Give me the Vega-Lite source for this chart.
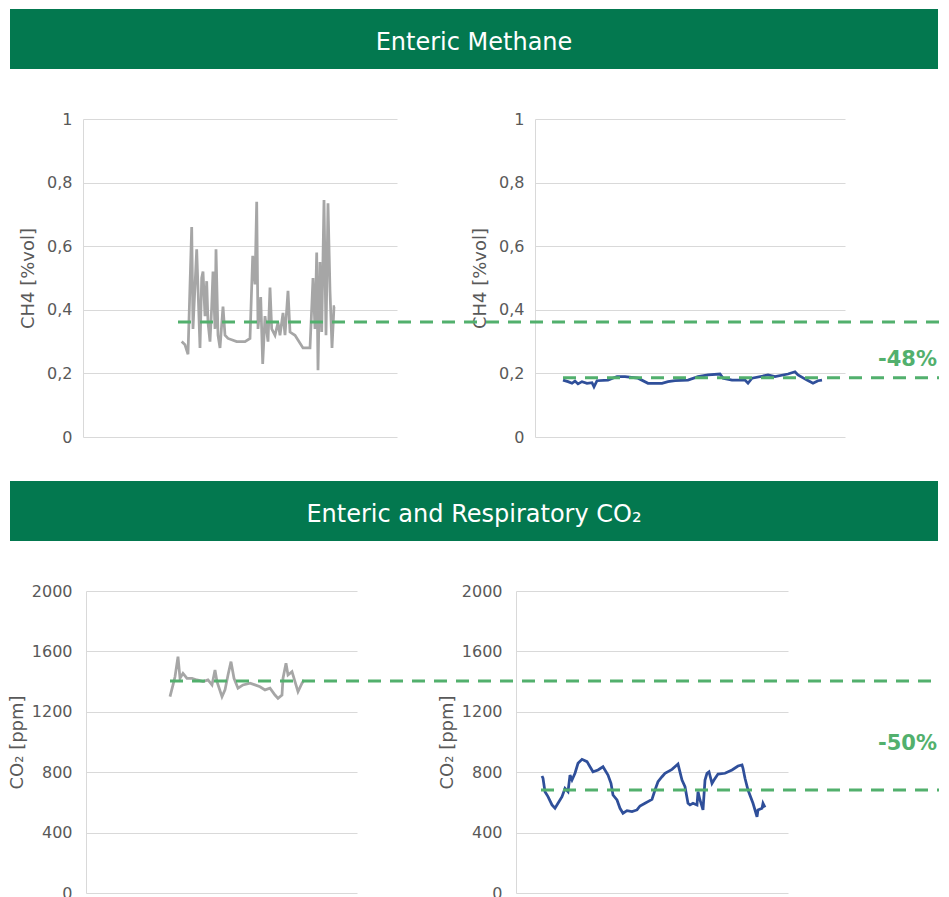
{
  "$schema": "https://vega.github.io/schema/vega-lite/v6.json",
  "width": 949,
  "height": 897,
  "autosize": {"type": "none"},
  "padding": 0,
  "background": "white",
  "config": {
    "font": "DejaVu Sans",
    "view": {"stroke": null},
    "axisY": {
      "labelFontSize": 16, "labelColor": "#595959", "labelPadding": 11,
      "ticks": false, "domainColor": "#d9d9d9", "gridColor": "#d9d9d9", "grid": true,
      "titleFontSize": 18, "titleFontWeight": "normal", "titleColor": "#595959", "titlePadding": 9
    }
  },
  "datasets": {
    "ch4_before": [
      {"t": 98.7, "v": 0.30}, {"t": 102, "v": 0.29}, {"t": 105, "v": 0.26}, {"t": 108.7, "v": 0.66},
      {"t": 110, "v": 0.34}, {"t": 113.7, "v": 0.59}, {"t": 117, "v": 0.28}, {"t": 118.7, "v": 0.50},
      {"t": 120, "v": 0.52}, {"t": 122, "v": 0.38}, {"t": 123.7, "v": 0.49}, {"t": 125, "v": 0.36},
      {"t": 127, "v": 0.30}, {"t": 128.7, "v": 0.41}, {"t": 130, "v": 0.52}, {"t": 132, "v": 0.34},
      {"t": 133, "v": 0.59}, {"t": 135, "v": 0.32}, {"t": 137, "v": 0.28}, {"t": 140, "v": 0.41},
      {"t": 142, "v": 0.32}, {"t": 145, "v": 0.31}, {"t": 153.7, "v": 0.30}, {"t": 162, "v": 0.30},
      {"t": 167, "v": 0.31}, {"t": 169.7, "v": 0.57}, {"t": 172, "v": 0.48}, {"t": 173.7, "v": 0.74},
      {"t": 175, "v": 0.34}, {"t": 177.7, "v": 0.44}, {"t": 179.7, "v": 0.23}, {"t": 182, "v": 0.38},
      {"t": 185, "v": 0.30}, {"t": 187, "v": 0.47}, {"t": 188.7, "v": 0.34}, {"t": 192, "v": 0.32},
      {"t": 195, "v": 0.36}, {"t": 197, "v": 0.32}, {"t": 200, "v": 0.39}, {"t": 202, "v": 0.32},
      {"t": 205, "v": 0.46}, {"t": 207, "v": 0.33}, {"t": 212, "v": 0.32}, {"t": 220, "v": 0.28},
      {"t": 227, "v": 0.28}, {"t": 230, "v": 0.50}, {"t": 232, "v": 0.34}, {"t": 233.7, "v": 0.58},
      {"t": 235, "v": 0.21}, {"t": 237, "v": 0.55}, {"t": 238.7, "v": 0.33}, {"t": 241, "v": 0.745},
      {"t": 243, "v": 0.32}, {"t": 245, "v": 0.735}, {"t": 247, "v": 0.46}, {"t": 249, "v": 0.28},
      {"t": 251, "v": 0.41}, {"t": 252, "v": 0.41}
    ],
    "ch4_after": [
      {"t": 28, "v": 0.179}, {"t": 33, "v": 0.174}, {"t": 37, "v": 0.169}, {"t": 40, "v": 0.176},
      {"t": 43, "v": 0.167}, {"t": 47, "v": 0.174}, {"t": 52, "v": 0.169}, {"t": 57, "v": 0.171},
      {"t": 59, "v": 0.158}, {"t": 62, "v": 0.177}, {"t": 73, "v": 0.179}, {"t": 82, "v": 0.19},
      {"t": 90, "v": 0.19}, {"t": 103, "v": 0.185}, {"t": 113, "v": 0.169}, {"t": 127, "v": 0.169},
      {"t": 133, "v": 0.174}, {"t": 140, "v": 0.177}, {"t": 153, "v": 0.179}, {"t": 163, "v": 0.19},
      {"t": 173, "v": 0.195}, {"t": 185, "v": 0.198}, {"t": 188, "v": 0.185}, {"t": 197, "v": 0.179},
      {"t": 210, "v": 0.179}, {"t": 213, "v": 0.169}, {"t": 217, "v": 0.185}, {"t": 233, "v": 0.195},
      {"t": 240, "v": 0.19}, {"t": 253, "v": 0.198}, {"t": 260, "v": 0.205}, {"t": 263, "v": 0.195},
      {"t": 272, "v": 0.179}, {"t": 278, "v": 0.169}, {"t": 283, "v": 0.177}, {"t": 287, "v": 0.179}
    ],
    "co2_before": [
      {"t": 84, "v": 1300}, {"t": 87, "v": 1378}, {"t": 89, "v": 1432}, {"t": 92, "v": 1565},
      {"t": 94, "v": 1422}, {"t": 97, "v": 1455}, {"t": 101, "v": 1422}, {"t": 106, "v": 1422},
      {"t": 111, "v": 1411}, {"t": 117, "v": 1400}, {"t": 122, "v": 1411}, {"t": 126, "v": 1378},
      {"t": 129, "v": 1477}, {"t": 131, "v": 1400}, {"t": 136, "v": 1300}, {"t": 139, "v": 1345},
      {"t": 142, "v": 1444}, {"t": 145, "v": 1532}, {"t": 148, "v": 1422}, {"t": 152, "v": 1356},
      {"t": 157, "v": 1378}, {"t": 164, "v": 1389}, {"t": 169, "v": 1378}, {"t": 174, "v": 1366},
      {"t": 179, "v": 1345}, {"t": 184, "v": 1356}, {"t": 189, "v": 1311}, {"t": 192, "v": 1289},
      {"t": 196, "v": 1311}, {"t": 197, "v": 1422}, {"t": 200, "v": 1521}, {"t": 202, "v": 1444},
      {"t": 206, "v": 1466}, {"t": 209, "v": 1400}, {"t": 212, "v": 1333}, {"t": 216, "v": 1389},
      {"t": 218, "v": 1411}
    ],
    "co2_after": [
      {"t": 26, "v": 775}, {"t": 27, "v": 760}, {"t": 29, "v": 671}, {"t": 32, "v": 638},
      {"t": 36, "v": 583}, {"t": 39, "v": 561}, {"t": 42, "v": 594}, {"t": 46, "v": 638},
      {"t": 49, "v": 693}, {"t": 52, "v": 671}, {"t": 54, "v": 781}, {"t": 56, "v": 748},
      {"t": 59, "v": 793}, {"t": 62, "v": 859}, {"t": 66, "v": 885}, {"t": 71, "v": 870},
      {"t": 74, "v": 836}, {"t": 77, "v": 803}, {"t": 82, "v": 815}, {"t": 87, "v": 836},
      {"t": 92, "v": 781}, {"t": 95, "v": 726}, {"t": 97, "v": 649}, {"t": 101, "v": 616},
      {"t": 104, "v": 561}, {"t": 107, "v": 528}, {"t": 111, "v": 545}, {"t": 116, "v": 539},
      {"t": 121, "v": 550}, {"t": 124, "v": 576}, {"t": 129, "v": 594}, {"t": 136, "v": 620},
      {"t": 139, "v": 682}, {"t": 142, "v": 737}, {"t": 146, "v": 770}, {"t": 149, "v": 793},
      {"t": 156, "v": 819}, {"t": 162, "v": 854}, {"t": 166, "v": 748}, {"t": 169, "v": 704},
      {"t": 172, "v": 594}, {"t": 174, "v": 583}, {"t": 177, "v": 594}, {"t": 181, "v": 583},
      {"t": 182, "v": 671}, {"t": 184, "v": 616}, {"t": 187, "v": 550}, {"t": 189, "v": 748},
      {"t": 191, "v": 793}, {"t": 193, "v": 803}, {"t": 196, "v": 726}, {"t": 198, "v": 748},
      {"t": 202, "v": 788}, {"t": 209, "v": 793}, {"t": 216, "v": 815}, {"t": 222, "v": 841},
      {"t": 226, "v": 848}, {"t": 227, "v": 826}, {"t": 229, "v": 760}, {"t": 232, "v": 682},
      {"t": 237, "v": 594}, {"t": 241, "v": 505}, {"t": 242, "v": 550}, {"t": 246, "v": 561},
      {"t": 247, "v": 594}, {"t": 249, "v": 567}
    ],
    "ch4_refs": [
      {"t1": -357, "t2": 404, "v": 0.362},
      {"t1": 28, "t2": 404, "v": 0.186}
    ],
    "co2_refs": [
      {"t1": -346, "t2": 423, "v": 1404},
      {"t1": 25, "t2": 423, "v": 682}
    ]
  },
  "layer": [
    {
      "data": {"values": [{"label": "Enteric Methane", "x1": 0, "x2": 1, "y1": 0, "y2": 1, "xm": 0.5, "ym": 0.43}]},
      "layer": [
        {
          "mark": {"type": "rect", "color": "#03784f"},
          "encoding": {
            "x": {"field": "x1", "type": "quantitative", "scale": {"domain": [0, 1], "range": [10, 938]}, "axis": null},
            "x2": {"field": "x2"},
            "y": {"field": "y1", "type": "quantitative", "scale": {"domain": [0, 1], "range": [69, 9]}, "axis": null},
            "y2": {"field": "y2"}
          }
        },
        {
          "mark": {"type": "text", "color": "white", "fontSize": 24, "align": "center", "baseline": "middle"},
          "encoding": {
            "x": {"field": "xm", "type": "quantitative", "axis": null},
            "y": {"field": "ym", "type": "quantitative", "axis": null},
            "text": {"field": "label"}
          }
        }
      ]
    },
    {
      "data": {"values": [{"label": "Enteric and Respiratory CO₂", "x1": 0, "x2": 1, "y1": 0, "y2": 1, "xm": 0.5, "ym": 0.43}]},
      "layer": [
        {
          "mark": {"type": "rect", "color": "#03784f"},
          "encoding": {
            "x": {"field": "x1", "type": "quantitative", "scale": {"domain": [0, 1], "range": [10, 938]}, "axis": null},
            "x2": {"field": "x2"},
            "y": {"field": "y1", "type": "quantitative", "scale": {"domain": [0, 1], "range": [541, 481]}, "axis": null},
            "y2": {"field": "y2"}
          }
        },
        {
          "mark": {"type": "text", "color": "white", "fontSize": 24, "align": "center", "baseline": "middle"},
          "encoding": {
            "x": {"field": "xm", "type": "quantitative", "axis": null},
            "y": {"field": "ym", "type": "quantitative", "axis": null},
            "text": {"field": "label"}
          }
        }
      ]
    },
    {
      "data": {"name": "ch4_before"},
      "mark": {"type": "line", "color": "#a6a6a6", "strokeWidth": 2.75, "clip": false},
      "encoding": {
        "x": {"field": "t", "type": "quantitative", "scale": {"domain": [0, 314], "range": [83, 397], "nice": false}, "axis": null},
        "y": {"field": "v", "type": "quantitative", "scale": {"domain": [0, 1], "range": [437, 119], "nice": false},
          "title": "CH4 [%vol]",
          "axis": {"orient": "left", "offset": -83, "grid": true, "values": [0, 0.2, 0.4, 0.6, 0.8, 1], "labelExpr": "replace(format(datum.value, '.1~f'), '.', ',')"}}
      }
    },
    {
      "layer": [
        {
          "data": {"name": "ch4_after"},
          "mark": {"type": "line", "color": "#2f4f9a", "strokeWidth": 2.75, "clip": false},
          "encoding": {
            "x": {"field": "t", "type": "quantitative", "scale": {"domain": [0, 310], "range": [535, 845], "nice": false}, "axis": null},
            "y": {"field": "v", "type": "quantitative", "scale": {"domain": [0, 1], "range": [437, 119], "nice": false},
              "title": "CH4 [%vol]",
              "axis": {"orient": "left", "offset": -535, "grid": true, "values": [0, 0.2, 0.4, 0.6, 0.8, 1], "labelExpr": "replace(format(datum.value, '.1~f'), '.', ',')"}}
          }
        },
        {
          "data": {"name": "ch4_refs"},
          "mark": {"type": "rule", "color": "#52b06d", "strokeWidth": 3, "strokeDash": [13, 9], "clip": false},
          "encoding": {
            "x": {"field": "t1", "type": "quantitative", "axis": null},
            "x2": {"field": "t2"},
            "y": {"field": "v", "type": "quantitative", "title": "CH4 [%vol]"}
          }
        },
        {
          "data": {"values": [{"label": "-48%", "t": 402, "v": 0.223}]},
          "mark": {"type": "text", "color": "#52b06d", "fontSize": 21, "fontWeight": "bold", "align": "right", "baseline": "alphabetic", "clip": false},
          "encoding": {
            "x": {"field": "t", "type": "quantitative", "axis": null},
            "y": {"field": "v", "type": "quantitative", "title": "CH4 [%vol]"},
            "text": {"field": "label"}
          }
        }
      ]
    },
    {
      "data": {"name": "co2_before"},
      "mark": {"type": "line", "color": "#a6a6a6", "strokeWidth": 2.75, "clip": false},
      "encoding": {
        "x": {"field": "t", "type": "quantitative", "scale": {"domain": [0, 271], "range": [86, 357], "nice": false}, "axis": null},
        "y": {"field": "v", "type": "quantitative", "scale": {"domain": [0, 2000], "range": [893, 591], "nice": false},
          "title": "CO₂ [ppm]",
          "axis": {"orient": "left", "offset": -86, "grid": true, "values": [0, 400, 800, 1200, 1600, 2000], "format": "d", "labelPadding": 14, "titlePadding": 5}}
      }
    },
    {
      "layer": [
        {
          "data": {"name": "co2_after"},
          "mark": {"type": "line", "color": "#2f4f9a", "strokeWidth": 2.75, "clip": false},
          "encoding": {
            "x": {"field": "t", "type": "quantitative", "scale": {"domain": [0, 272], "range": [516, 788], "nice": false}, "axis": null},
            "y": {"field": "v", "type": "quantitative", "scale": {"domain": [0, 2000], "range": [893, 591], "nice": false},
              "title": "CO₂ [ppm]",
              "axis": {"orient": "left", "offset": -516, "grid": true, "values": [0, 400, 800, 1200, 1600, 2000], "format": "d", "labelPadding": 14, "titlePadding": 5}}
          }
        },
        {
          "data": {"name": "co2_refs"},
          "mark": {"type": "rule", "color": "#52b06d", "strokeWidth": 3, "strokeDash": [13, 9], "clip": false},
          "encoding": {
            "x": {"field": "t1", "type": "quantitative", "axis": null},
            "x2": {"field": "t2"},
            "y": {"field": "v", "type": "quantitative", "title": "CO₂ [ppm]"}
          }
        },
        {
          "data": {"values": [{"label": "-50%", "t": 421, "v": 947}]},
          "mark": {"type": "text", "color": "#52b06d", "fontSize": 21, "fontWeight": "bold", "align": "right", "baseline": "alphabetic", "clip": false},
          "encoding": {
            "x": {"field": "t", "type": "quantitative", "axis": null},
            "y": {"field": "v", "type": "quantitative", "title": "CO₂ [ppm]"},
            "text": {"field": "label"}
          }
        }
      ]
    }
  ],
  "resolve": {
    "scale": {"x": "independent", "y": "independent"},
    "axis": {"x": "independent", "y": "independent"}
  }
}
